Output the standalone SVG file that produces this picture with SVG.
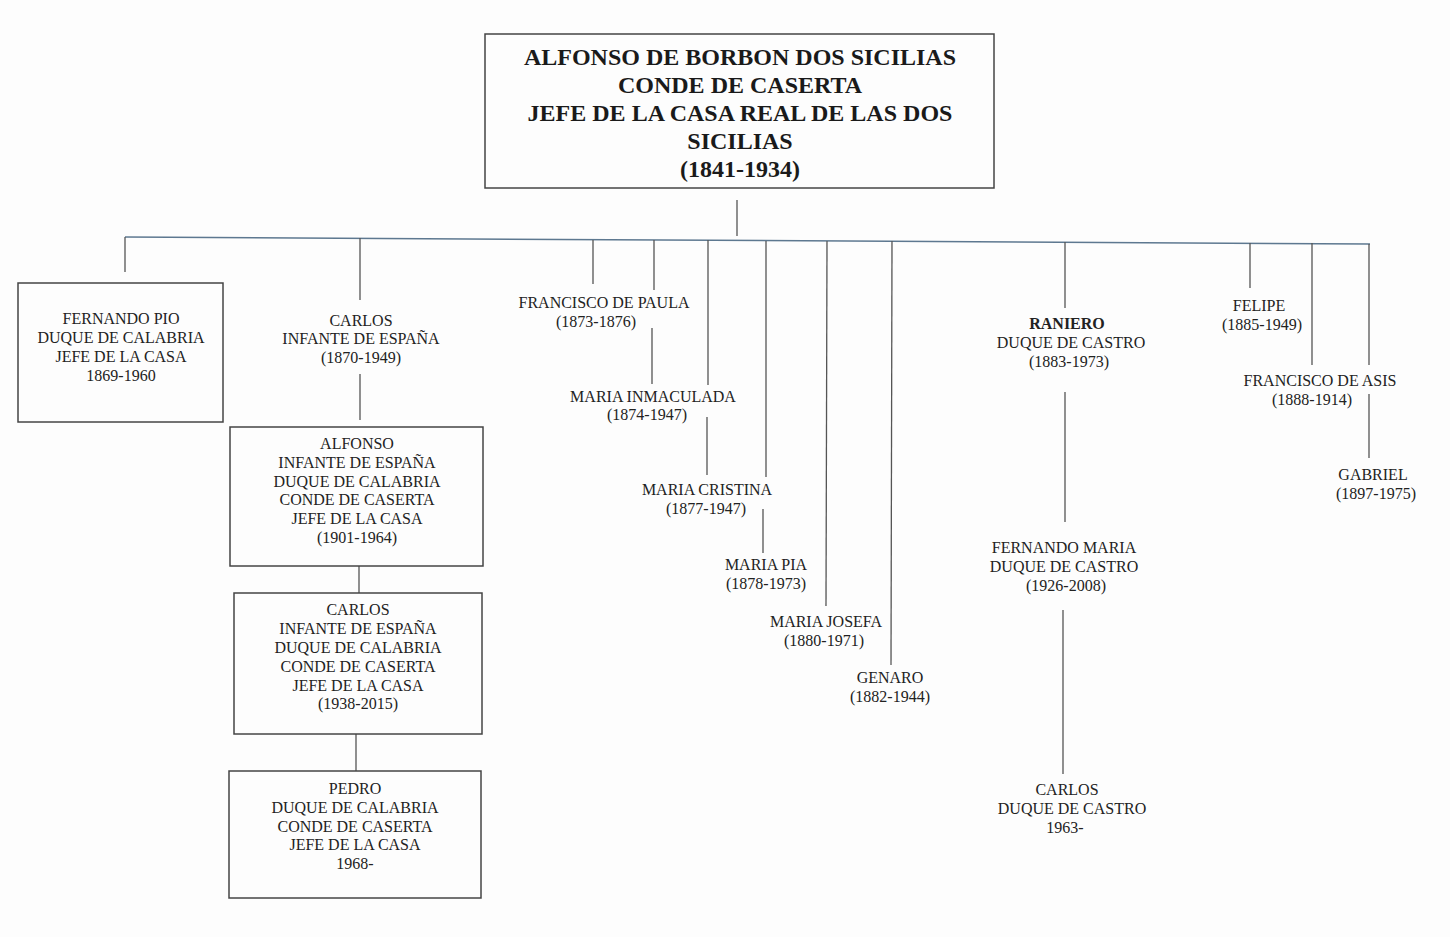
<svg xmlns="http://www.w3.org/2000/svg" width="1450" height="937" viewBox="0 0 1450 937">
<style>
.t{font-family:"Liberation Serif","Times New Roman",serif;font-size:16px;fill:#222;text-anchor:middle}
.h{font-family:"Liberation Serif","Times New Roman",serif;font-size:24px;font-weight:bold;fill:#1a1a1a;text-anchor:middle}
.b{font-weight:bold}
.box{fill:none;stroke:#444;stroke-width:1.5}
.c{stroke:#555;stroke-width:1.3;fill:none}
.bar{stroke:#5d7890;stroke-width:1.5;fill:none}
</style>
<rect width="1450" height="937" fill="#fdfdfd"/>
<g id="connectors">
<line class="c" x1="737" y1="200" x2="737" y2="236"/>
<line class="bar" x1="125" y1="237" x2="1370" y2="244"/>
<line class="c" x1="125" y1="237" x2="125" y2="272"/>
<line class="c" x1="360" y1="238" x2="360" y2="300"/>
<line class="c" x1="360" y1="374" x2="360" y2="420"/>
<line class="c" x1="359" y1="566" x2="359" y2="593"/>
<line class="c" x1="356" y1="734" x2="356" y2="771"/>
<line class="c" x1="593" y1="240" x2="593" y2="284"/>
<line class="c" x1="654" y1="240" x2="654" y2="290"/>
<line class="c" x1="652" y1="328" x2="652" y2="384"/>
<line class="c" x1="708" y1="240" x2="708" y2="385"/>
<line class="c" x1="707" y1="417" x2="707" y2="475"/>
<line class="c" x1="766" y1="241" x2="766" y2="477"/>
<line class="c" x1="763" y1="509" x2="763" y2="553"/>
<line class="c" x1="827" y1="241" x2="826" y2="606"/>
<line class="c" x1="892" y1="241" x2="891" y2="665"/>
<line class="c" x1="1065" y1="242" x2="1065" y2="308"/>
<line class="c" x1="1065" y1="392" x2="1065" y2="522"/>
<line class="c" x1="1063" y1="610" x2="1063" y2="774"/>
<line class="c" x1="1250" y1="243" x2="1250" y2="288"/>
<line class="c" x1="1312" y1="243" x2="1312" y2="365"/>
<line class="c" x1="1369" y1="244" x2="1369" y2="365"/>
<line class="c" x1="1369" y1="394" x2="1369" y2="458"/>
</g>
<g id="alfonso-caserta">
<rect class="box" x="485" y="34" width="509" height="154"/>
<text class="h" x="740" y="65">ALFONSO DE BORBON DOS SICILIAS</text>
<text class="h" x="740" y="93">CONDE DE CASERTA</text>
<text class="h" x="740" y="121">JEFE DE LA CASA REAL DE LAS DOS</text>
<text class="h" x="740" y="149">SICILIAS</text>
<text class="h" x="740" y="177">(1841-1934)</text>
</g>
<g id="fernando-pio">
<rect class="box" x="18" y="283" width="205" height="139"/>
<text class="t" x="121" y="324">FERNANDO PIO</text>
<text class="t" x="121" y="343">DUQUE DE CALABRIA</text>
<text class="t" x="121" y="362">JEFE DE LA CASA</text>
<text class="t" x="121" y="381">1869-1960</text>
</g>
<g id="carlos-1870">
<text class="t" x="361" y="326">CARLOS</text>
<text class="t" x="361" y="344">INFANTE DE ESPAÑA</text>
<text class="t" x="361" y="363">(1870-1949)</text>
</g>
<g id="alfonso-1901">
<rect class="box" x="230" y="427" width="253" height="139"/>
<text class="t" x="357" y="449">ALFONSO</text>
<text class="t" x="357" y="468">INFANTE DE ESPAÑA</text>
<text class="t" x="357" y="487">DUQUE DE CALABRIA</text>
<text class="t" x="357" y="505">CONDE DE CASERTA</text>
<text class="t" x="357" y="524">JEFE DE LA CASA</text>
<text class="t" x="357" y="543">(1901-1964)</text>
</g>
<g id="carlos-1938">
<rect class="box" x="234" y="593" width="248" height="141"/>
<text class="t" x="358" y="615">CARLOS</text>
<text class="t" x="358" y="634">INFANTE DE ESPAÑA</text>
<text class="t" x="358" y="653">DUQUE DE CALABRIA</text>
<text class="t" x="358" y="672">CONDE DE CASERTA</text>
<text class="t" x="358" y="691">JEFE DE LA CASA</text>
<text class="t" x="358" y="709">(1938-2015)</text>
</g>
<g id="pedro">
<rect class="box" x="229" y="771" width="252" height="127"/>
<text class="t" x="355" y="794">PEDRO</text>
<text class="t" x="355" y="813">DUQUE DE CALABRIA</text>
<text class="t" x="355" y="832">CONDE DE CASERTA</text>
<text class="t" x="355" y="850">JEFE DE LA CASA</text>
<text class="t" x="355" y="869">1968-</text>
</g>
<g id="francisco-de-paula">
<text class="t" x="604" y="308">FRANCISCO DE PAULA</text>
<text class="t" x="596" y="327">(1873-1876)</text>
</g>
<g id="maria-inmaculada">
<text class="t" x="653" y="402">MARIA INMACULADA</text>
<text class="t" x="647" y="420">(1874-1947)</text>
</g>
<g id="maria-cristina">
<text class="t" x="707" y="495">MARIA CRISTINA</text>
<text class="t" x="706" y="514">(1877-1947)</text>
</g>
<g id="maria-pia">
<text class="t" x="766" y="570">MARIA PIA</text>
<text class="t" x="766" y="589">(1878-1973)</text>
</g>
<g id="maria-josefa">
<text class="t" x="826" y="627">MARIA JOSEFA</text>
<text class="t" x="824" y="646">(1880-1971)</text>
</g>
<g id="genaro">
<text class="t" x="890" y="683">GENARO</text>
<text class="t" x="890" y="702">(1882-1944)</text>
</g>
<g id="raniero">
<text class="t b" x="1067" y="329">RANIERO</text>
<text class="t" x="1071" y="348">DUQUE DE CASTRO</text>
<text class="t" x="1069" y="367">(1883-1973)</text>
</g>
<g id="fernando-maria">
<text class="t" x="1064" y="553">FERNANDO MARIA</text>
<text class="t" x="1064" y="572">DUQUE DE CASTRO</text>
<text class="t" x="1066" y="591">(1926-2008)</text>
</g>
<g id="carlos-castro">
<text class="t" x="1067" y="795">CARLOS</text>
<text class="t" x="1072" y="814">DUQUE DE CASTRO</text>
<text class="t" x="1065" y="833">1963-</text>
</g>
<g id="felipe">
<text class="t" x="1259" y="311">FELIPE</text>
<text class="t" x="1262" y="330">(1885-1949)</text>
</g>
<g id="francisco-de-asis">
<text class="t" x="1320" y="386">FRANCISCO DE ASIS</text>
<text class="t" x="1312" y="405">(1888-1914)</text>
</g>
<g id="gabriel">
<text class="t" x="1373" y="480">GABRIEL</text>
<text class="t" x="1376" y="499">(1897-1975)</text>
</g>
</svg>
